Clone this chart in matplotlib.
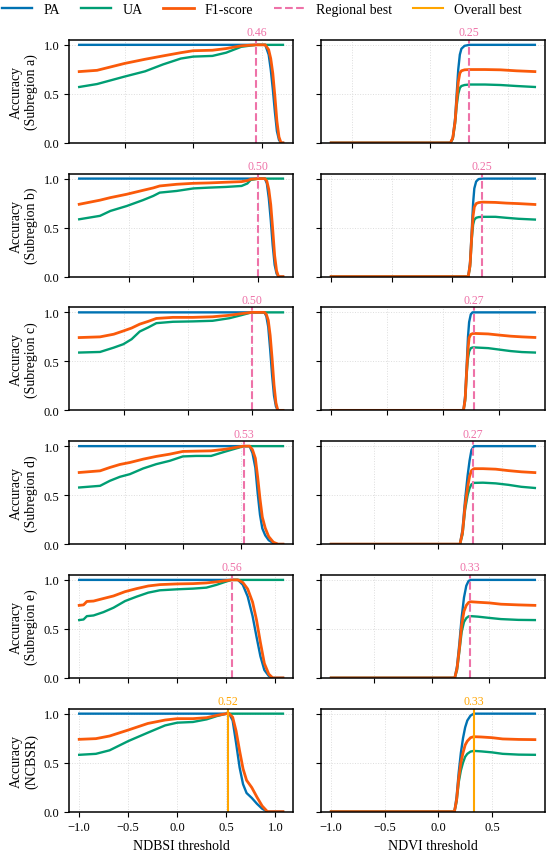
import numpy as np
import matplotlib.pyplot as plt
from matplotlib.ticker import MultipleLocator
from matplotlib.lines import Line2D

plt.rcParams['font.family'] = ['Liberation Serif', 'DejaVu Serif']
plt.rcParams['mathtext.fontset'] = 'stix'

# ---- NDBSI (left column) values ----
a_ndbsi_x = [-0.83, -0.7, -0.5, -0.35, -0.22, -0.09, 0.0, 0.14, 0.24, 0.35, 0.42, 0.46, 0.50, 0.525,
             0.55, 0.565, 0.58, 0.595, 0.61, 0.625, 0.64, 0.654]
a_ndbsi_pa = [1, 1, 1, 1, 1, 1, 1, 1, 1, 1, 1, 1, 1, 1, 0.9, 0.75, 0.55, 0.32, 0.12, 0.03, 0.0, 0.0]
a_ndbsi_ua = [0.57, 0.60, 0.676, 0.73, 0.80, 0.86, 0.88, 0.887, 0.92, 0.98, 0.993, 1, 1, 1,
              1, 1, 1, 1, 1, 1, 1, 1]
a_ndbsi_f1 = [0.727, 0.74, 0.81, 0.853, 0.887, 0.92, 0.94, 0.945, 0.962, 0.99, 0.997, 1, 1, 1,
              0.95, 0.86, 0.71, 0.48, 0.22, 0.06, 0.0, 0.0]

b_ndbsi_x = [-0.88, -0.72, -0.64, -0.515, -0.39, -0.31, -0.26, -0.13, 0.0, 0.12, 0.25, 0.37, 0.415,
             0.44, 0.5, 0.55, 0.565, 0.58, 0.595, 0.61, 0.625, 0.64, 0.655, 0.689]
b_ndbsi_pa = [1, 1, 1, 1, 1, 1, 1, 1, 1, 1, 1, 1, 1, 1, 1, 1, 0.95, 0.8, 0.58, 0.32, 0.12, 0.03, 0.0, 0.0]
b_ndbsi_ua = [0.585, 0.62, 0.67, 0.72, 0.78, 0.823, 0.857, 0.874, 0.90, 0.908, 0.915, 0.925, 0.95,
              0.986, 1, 1, 1, 1, 1, 1, 1, 1, 1, 1]
b_ndbsi_f1 = [0.738, 0.78, 0.806, 0.84, 0.88, 0.905, 0.925, 0.942, 0.952, 0.956, 0.963, 0.969, 0.98,
              0.993, 1, 1, 0.974, 0.889, 0.734, 0.485, 0.214, 0.058, 0.0, 0.0]

c_ndbsi_x = [-0.85, -0.687, -0.58, -0.505, -0.44, -0.376, -0.31, -0.246, -0.117, 0.04, 0.194, 0.324,
             0.415, 0.5, 0.6, 0.615, 0.63, 0.645, 0.66, 0.675, 0.69, 0.705, 0.745]
c_ndbsi_pa = [1, 1, 1, 1, 1, 1, 1, 1, 1, 1, 1, 1, 1, 1, 1, 0.96, 0.85, 0.62, 0.36, 0.15, 0.04, 0.0, 0.0]
c_ndbsi_ua = [0.59, 0.596, 0.64, 0.675, 0.726, 0.805, 0.846, 0.89, 0.904, 0.908, 0.914, 0.94,
              0.97, 1, 1, 1, 1, 1, 1, 1, 1, 1, 1]
c_ndbsi_f1 = [0.743, 0.75, 0.777, 0.81, 0.84, 0.88, 0.908, 0.938, 0.949, 0.949, 0.955, 0.97,
              0.986, 1, 1, 0.98, 0.919, 0.765, 0.53, 0.26, 0.077, 0.0, 0.0]

d_ndbsi_x = [-0.894, -0.714, -0.63, -0.543, -0.457, -0.343, -0.23, -0.114, 0.0, 0.114, 0.243, 0.37,
             0.486, 0.523, 0.575, 0.6, 0.625, 0.645, 0.665, 0.685, 0.71, 0.74, 0.78, 0.82, 0.863]
d_ndbsi_pa = [1, 1, 1, 1, 1, 1, 1, 1, 1, 1, 1, 1, 1, 1, 1, 0.93, 0.78, 0.52, 0.3, 0.16, 0.09, 0.04,
              0.01, 0.0, 0.0]
d_ndbsi_ua = [0.578, 0.595, 0.646, 0.687, 0.714, 0.772, 0.816, 0.85, 0.895, 0.90, 0.90, 0.946,
              0.986, 1, 1, 1, 1, 1, 1, 1, 1, 1, 1, 1, 1]
d_ndbsi_f1 = [0.731, 0.748, 0.782, 0.813, 0.833, 0.867, 0.895, 0.918, 0.946, 0.949, 0.952, 0.969,
              0.993, 1, 1, 0.964, 0.876, 0.684, 0.462, 0.276, 0.165, 0.077, 0.02, 0.0, 0.0]

e_ndbsi_x = [-1.0, -0.956, -0.922, -0.854, -0.753, -0.65, -0.532, -0.414, -0.295, -0.176, 0.0, 0.163,
             0.298, 0.4, 0.5, 0.556, 0.62, 0.67, 0.72, 0.77, 0.81, 0.85, 0.89, 0.935, 0.975, 1.08]
e_ndbsi_pa = [1, 1, 1, 1, 1, 1, 1, 1, 1, 1, 1, 1, 1, 1, 1, 1, 1, 0.95, 0.83, 0.63, 0.42, 0.22, 0.08,
              0.02, 0.0, 0.0]
e_ndbsi_ua = [0.59, 0.596, 0.63, 0.637, 0.671, 0.716, 0.784, 0.829, 0.87, 0.894, 0.904, 0.911,
              0.921, 0.949, 0.983, 1, 1, 1, 1, 1, 1, 1, 1, 1, 1, 1]
e_ndbsi_f1 = [0.74, 0.745, 0.78, 0.784, 0.81, 0.836, 0.88, 0.911, 0.938, 0.952, 0.959, 0.962,
              0.969, 0.98, 0.993, 1, 1, 0.974, 0.907, 0.773, 0.592, 0.36, 0.148, 0.039, 0.0, 0.0]

f_ndbsi_x = [-1.0, -0.83, -0.69, -0.5, -0.3, -0.124, 0.0, 0.16, 0.3, 0.406, 0.505, 0.53, 0.565, 0.6,
             0.636, 0.671, 0.707, 0.76, 0.813, 0.866, 0.92, 0.97, 1.078]
f_ndbsi_pa = [1, 1, 1, 1, 1, 1, 1, 1, 1, 1, 1, 1, 0.93, 0.7, 0.45, 0.28, 0.19, 0.14, 0.08, 0.03,
              0.0, 0.0, 0.0]
f_ndbsi_ua = [0.58, 0.59, 0.626, 0.72, 0.806, 0.88, 0.908, 0.915, 0.942, 0.976, 1, 1, 1, 1, 1, 1,
              1, 1, 1, 1, 1, 1, 1]
f_ndbsi_f1 = [0.738, 0.745, 0.772, 0.833, 0.90, 0.935, 0.949, 0.949, 0.959, 0.983, 1, 1, 0.964,
              0.824, 0.62, 0.4375, 0.32, 0.246, 0.148, 0.058, 0.0, 0.0, 0.0]

# ---- NDVI (right column) ----
a_ndvi_x = [-0.63, 0.13, 0.145, 0.16, 0.17, 0.18, 0.19, 0.20, 0.22, 0.25, 0.35, 0.45, 0.55, 0.668]
a_ndvi_pa = [0, 0, 0.05, 0.25, 0.5, 0.75, 0.9, 0.96, 0.99, 1, 1, 1, 1, 1]
a_ndvi_ua = [0, 0, 0.04, 0.2, 0.38, 0.5, 0.56, 0.58, 0.59, 0.595, 0.595, 0.59, 0.58, 0.57]
a_ndvi_f1 = [0, 0, 0.05, 0.22, 0.43, 0.62, 0.71, 0.735, 0.745, 0.748, 0.748, 0.745, 0.735, 0.727]

b_ndvi_x = [-1.0, 0.135, 0.15, 0.165, 0.175, 0.185, 0.2, 0.22, 0.25, 0.36, 0.45, 0.55, 0.686]
b_ndvi_pa = [0, 0, 0.15, 0.5, 0.75, 0.9, 0.97, 0.995, 1, 1, 1, 1, 1]
b_ndvi_ua = [0, 0, 0.1, 0.4, 0.53, 0.58, 0.6, 0.607, 0.61, 0.61, 0.6, 0.59, 0.582]
b_ndvi_f1 = [0, 0, 0.12, 0.44, 0.62, 0.71, 0.745, 0.755, 0.76, 0.757, 0.75, 0.745, 0.736]

c_ndvi_x = [-1.0, 0.18, 0.195, 0.21, 0.22, 0.23, 0.245, 0.26, 0.28, 0.4, 0.5, 0.6, 0.7, 0.816]
c_ndvi_pa = [0, 0, 0.15, 0.5, 0.75, 0.9, 0.98, 1, 1, 1, 1, 1, 1, 1]
c_ndvi_ua = [0, 0, 0.1, 0.4, 0.53, 0.6, 0.635, 0.642, 0.642, 0.635, 0.62, 0.605, 0.595, 0.59]
c_ndvi_f1 = [0, 0, 0.12, 0.44, 0.62, 0.74, 0.775, 0.783, 0.785, 0.78, 0.768, 0.757, 0.75, 0.744]

d_ndvi_x = [-0.84, 0.17, 0.19, 0.21, 0.23, 0.245, 0.26, 0.28, 0.35, 0.45, 0.55, 0.65, 0.757]
d_ndvi_pa = [0, 0, 0.15, 0.45, 0.7, 0.85, 0.96, 1, 1, 1, 1, 1, 1]
d_ndvi_ua = [0, 0, 0.1, 0.35, 0.5, 0.57, 0.61, 0.625, 0.627, 0.62, 0.605, 0.585, 0.573]
d_ndvi_f1 = [0, 0, 0.12, 0.39, 0.58, 0.69, 0.75, 0.77, 0.77, 0.765, 0.75, 0.738, 0.73]

e_ndvi_x = [-0.871, 0.2, 0.22, 0.24, 0.26, 0.28, 0.3, 0.32, 0.34, 0.4, 0.5, 0.6, 0.75, 0.894]
e_ndvi_pa = [0, 0, 0.12, 0.35, 0.62, 0.82, 0.94, 0.99, 1, 1, 1, 1, 1, 1]
e_ndvi_ua = [0, 0, 0.08, 0.27, 0.47, 0.57, 0.61, 0.628, 0.63, 0.625, 0.612, 0.6, 0.592, 0.59]
e_ndvi_f1 = [0, 0, 0.1, 0.3, 0.54, 0.68, 0.74, 0.77, 0.777, 0.772, 0.765, 0.752, 0.745, 0.74]

f_ndvi_x = [-1.0, 0.15, 0.17, 0.19, 0.21, 0.23, 0.25, 0.27, 0.3, 0.33, 0.4, 0.5, 0.6, 0.75, 0.9]
f_ndvi_pa = [0, 0, 0.15, 0.4, 0.6, 0.75, 0.86, 0.93, 0.98, 1, 1, 1, 1, 1, 1]
f_ndvi_ua = [0, 0, 0.1, 0.3, 0.42, 0.5, 0.56, 0.59, 0.613, 0.62, 0.615, 0.605, 0.59, 0.582, 0.58]
f_ndvi_f1 = [0, 0, 0.12, 0.34, 0.5, 0.6, 0.68, 0.72, 0.755, 0.765, 0.762, 0.755, 0.742, 0.737, 0.735]

row_names = ['Subregion a', 'Subregion b', 'Subregion c', 'Subregion d', 'Subregion e', 'NCBSR']
best_ndbsi = [0.46, 0.50, 0.50, 0.53, 0.56, 0.52]
best_ndvi = [0.25, 0.25, 0.27, 0.27, 0.33, 0.33]

ndbsi_data = [
    (a_ndbsi_x, a_ndbsi_pa, a_ndbsi_ua, a_ndbsi_f1),
    (b_ndbsi_x, b_ndbsi_pa, b_ndbsi_ua, b_ndbsi_f1),
    (c_ndbsi_x, c_ndbsi_pa, c_ndbsi_ua, c_ndbsi_f1),
    (d_ndbsi_x, d_ndbsi_pa, d_ndbsi_ua, d_ndbsi_f1),
    (e_ndbsi_x, e_ndbsi_pa, e_ndbsi_ua, e_ndbsi_f1),
    (f_ndbsi_x, f_ndbsi_pa, f_ndbsi_ua, f_ndbsi_f1),
]
ndvi_data = [
    (a_ndvi_x, a_ndvi_pa, a_ndvi_ua, a_ndvi_f1),
    (b_ndvi_x, b_ndvi_pa, b_ndvi_ua, b_ndvi_f1),
    (c_ndvi_x, c_ndvi_pa, c_ndvi_ua, c_ndvi_f1),
    (d_ndvi_x, d_ndvi_pa, d_ndvi_ua, d_ndvi_f1),
    (e_ndvi_x, e_ndvi_pa, e_ndvi_ua, e_ndvi_f1),
    (f_ndvi_x, f_ndvi_pa, f_ndvi_ua, f_ndvi_f1),
]

c_pa = '#0072B2'
c_ua = '#009E73'
c_f1 = '#FA5A0A'
c_reg = '#EE72A8'
c_all = '#FFA500'

fig, axes = plt.subplots(6, 2, figsize=(5.5, 8.53), dpi=100)
fig.subplots_adjust(left=0.1255, right=0.991, top=0.952, bottom=0.0473, wspace=0.124, hspace=0.30)


def draw(ax, data, best, last):
    x, pa, ua, f1 = data
    ax.plot(x, pa, color=c_pa, lw=1.7)
    ax.plot(x, ua, color=c_ua, lw=1.7)
    ax.plot(x, f1, color=c_f1, lw=2.0)
    col = c_all if last else c_reg
    ls = '-' if last else '--'
    ax.axvline(best, color=col, ls=ls, lw=1.5)
    ax.text(best, 1.015, f'{best:.2f}', color=col, fontsize=8.5, ha='center', va='bottom',
            transform=ax.get_xaxis_transform())
    ax.set_ylim(0, 1.05)
    ax.set_yticks([0.0, 0.5, 1.0])
    ax.xaxis.set_major_locator(MultipleLocator(0.5))
    ax.grid(True, color='#dddddd', ls=':', lw=0.7)
    ax.tick_params(labelsize=9, direction='out', length=3.5)
    for s in ax.spines.values():
        s.set_linewidth(1.1)


for i in range(6):
    last = i == 5
    axl, axr = axes[i]
    draw(axl, ndbsi_data[i], best_ndbsi[i], last)
    draw(axr, ndvi_data[i], best_ndvi[i], last)
    axl.set_ylabel('Accuracy\n(' + row_names[i] + ')', fontsize=10)
    axr.set_yticklabels([])
    if not last:
        axl.set_xticklabels([])
        axr.set_xticklabels([])

axes[5, 0].set_xlabel('NDBSI threshold', fontsize=10)
axes[5, 1].set_xlabel('NDVI threshold', fontsize=10)

handles = [
    Line2D([], [], color=c_pa, lw=1.7),
    Line2D([], [], color=c_ua, lw=1.7),
    Line2D([], [], color=c_f1, lw=2.0),
    Line2D([], [], color=c_reg, lw=1.5, ls='--'),
    Line2D([], [], color=c_all, lw=1.5),
]
labels = ['PA', 'UA', 'F1-score', 'Regional best', 'Overall best']
fig.legend(handles, labels, loc='center', bbox_to_anchor=(0.476, 0.988), ncol=5, frameon=False,
           fontsize=10, handlelength=2.2, handletextpad=0.8, columnspacing=1.5)

fig.savefig('out.png', dpi=100)
